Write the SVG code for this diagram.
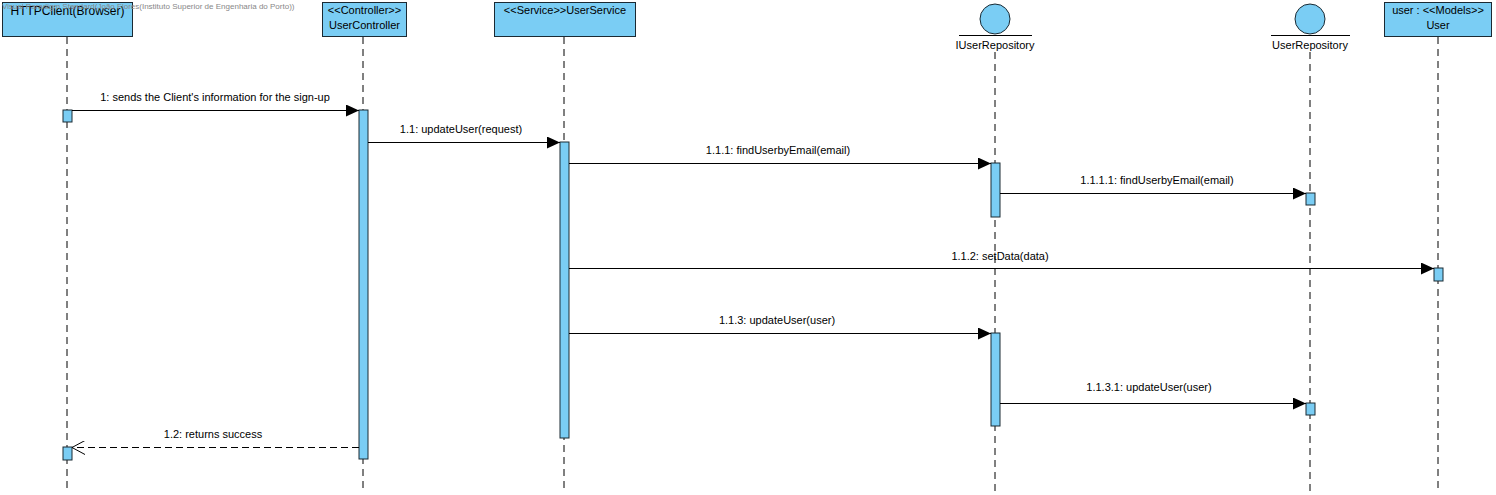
<svg xmlns="http://www.w3.org/2000/svg" width="1496" height="495" viewBox="0 0 1496 495">
<defs>
<style>
text{font-family:"Liberation Sans",Arial,sans-serif;font-size:11px;fill:#000}
.box{fill:#7ACDF4;stroke:#1b2a33;stroke-width:1}
.life{stroke:#000;stroke-width:1;stroke-dasharray:7,5;fill:none}
.act{fill:#7ACDF4;stroke:#1b2a33;stroke-width:1}
.msg{stroke:#000;stroke-width:1;fill:none}
.ret{stroke:#000;stroke-width:1;fill:none;stroke-dasharray:7,4}
.wm{font-size:8px;fill:#888}
.ttl{font-size:12px}
</style>
<marker id="arr" markerWidth="14" markerHeight="12" refX="13" refY="6" orient="auto" markerUnits="userSpaceOnUse">
<path d="M0,0 L13,6 L0,12 Z" fill="#000"/>
</marker>
<marker id="open" markerWidth="14" markerHeight="14" refX="13" refY="7" orient="auto" markerUnits="userSpaceOnUse">
<path d="M0,0 L13,7 L0,14" fill="none" stroke="#000" stroke-width="1"/>
</marker>
</defs>
<rect width="1496" height="495" fill="#fff"/>

<g id="lifelines">
<line class="life" x1="67" y1="37" x2="67" y2="492"/>
<line class="life" x1="363" y1="37" x2="363" y2="492"/>
<line class="life" x1="564" y1="37" x2="564" y2="492"/>
<line class="life" x1="995" y1="52" x2="995" y2="492"/>
<line class="life" x1="1310" y1="52" x2="1310" y2="492"/>
<line class="life" x1="1438" y1="37" x2="1438" y2="492"/>
</g>

<g id="httpclient">
<rect class="box" x="2.5" y="2.5" width="130" height="34"/>
<text class="ttl" x="67.5" y="15" text-anchor="middle">HTTPClient(Browser)</text>
<rect class="act" x="63" y="110" width="9" height="12"/>
<rect class="act" x="63" y="447" width="9" height="13"/>
</g>

<g id="usercontroller">
<rect class="box" x="322.5" y="2.5" width="84" height="34"/>
<text x="364.5" y="14" text-anchor="middle">&lt;&lt;Controller&gt;&gt;</text>
<text x="364.5" y="29" text-anchor="middle">UserController</text>
<rect class="act" x="359" y="110" width="9" height="349"/>
</g>

<g id="userservice">
<rect class="box" x="494.5" y="2.5" width="141" height="34"/>
<text x="565" y="14" text-anchor="middle">&lt;&lt;Service&gt;&gt;UserService</text>
<rect class="act" x="560" y="142" width="9" height="296"/>
</g>

<g id="iuserrepository">
<circle class="box" cx="995" cy="19" r="15"/>
<line x1="959" y1="35.5" x2="1032" y2="35.5" stroke="#000"/>
<text x="995" y="49" text-anchor="middle">IUserRepository</text>
<rect class="act" x="991" y="163" width="9" height="54"/>
<rect class="act" x="991" y="333" width="9" height="93"/>
</g>

<g id="userrepository">
<circle class="box" cx="1310" cy="19" r="15"/>
<line x1="1271" y1="35.5" x2="1350" y2="35.5" stroke="#000"/>
<text x="1310" y="49" text-anchor="middle">UserRepository</text>
<rect class="act" x="1306" y="193" width="9" height="12"/>
<rect class="act" x="1306" y="403" width="9" height="12"/>
</g>

<g id="user">
<rect class="box" x="1384.5" y="2.5" width="107" height="34"/>
<text x="1438" y="14" text-anchor="middle">user : &lt;&lt;Models&gt;&gt;</text>
<text x="1438" y="29" text-anchor="middle">User</text>
<rect class="act" x="1434" y="268" width="9" height="13"/>
</g>

<g id="connectors">
<line class="msg" x1="72" y1="110.5" x2="359" y2="110.5" marker-end="url(#arr)"/>
<text x="215" y="101" text-anchor="middle">1: sends the Client's information for the sign-up</text>
<line class="msg" x1="368" y1="142.5" x2="560" y2="142.5" marker-end="url(#arr)"/>
<text x="461" y="133" text-anchor="middle">1.1: updateUser(request)</text>
<line class="msg" x1="569" y1="163.5" x2="991" y2="163.5" marker-end="url(#arr)"/>
<text x="778" y="154" text-anchor="middle">1.1.1: findUserbyEmail(email)</text>
<line class="msg" x1="1000" y1="193.5" x2="1306" y2="193.5" marker-end="url(#arr)"/>
<text x="1157" y="184" text-anchor="middle">1.1.1.1: findUserbyEmail(email)</text>
<line class="msg" x1="569" y1="268.5" x2="1434" y2="268.5" marker-end="url(#arr)"/>
<text x="1000" y="260" text-anchor="middle">1.1.2: setData(data)</text>
<line class="msg" x1="569" y1="333.5" x2="991" y2="333.5" marker-end="url(#arr)"/>
<text x="777" y="324" text-anchor="middle">1.1.3: updateUser(user)</text>
<line class="msg" x1="1000" y1="403.5" x2="1306" y2="403.5" marker-end="url(#arr)"/>
<text x="1149" y="391" text-anchor="middle">1.1.3.1: updateUser(user)</text>
<line class="ret" x1="359" y1="447.5" x2="72" y2="447.5" marker-end="url(#open)"/>
<text x="213" y="438" text-anchor="middle">1.2: returns success</text>
</g>

<text class="wm" x="2" y="9">Visual Paradigm Standard(João Flores(Instituto Superior de Engenharia do Porto))</text>
</svg>
